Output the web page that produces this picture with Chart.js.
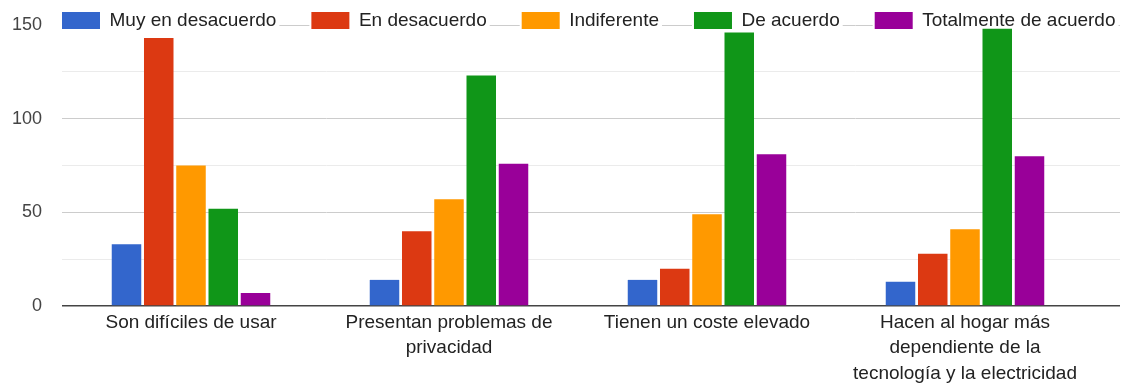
<!DOCTYPE html>
<html>
<head>
<meta charset="utf-8">
<script src="https://cdn.jsdelivr.net/npm/chart.js@4"></script>
<style>
  html, body { margin: 0; padding: 0; background: #fff; }
</style>
</head>
<body>
<canvas id="barChart" width="1126" height="383"></canvas>
<script>
// Survey answers per statement
const statements = [
    'Son difíciles de usar',
    ['Presentan problemas de', 'privacidad'],
    'Tienen un coste elevado',
    ['Hacen al hogar más', 'dependiente de la', 'tecnología y la electricidad']
];
const answers = ['Muy en desacuerdo', 'En desacuerdo', 'Indiferente', 'De acuerdo', 'Totalmente de acuerdo'];

const muyEnDesacuerdo = [33, 14, 14, 13];
const enDesacuerdo = [143, 40, 20, 28];
const indiferente = [75, 57, 49, 41];
const deAcuerdo = [52, 123, 146, 148];
const totalmenteDeAcuerdo = [7, 76, 81, 80];

const answerColors = ['#3366cc', '#dc3912', '#ff9900', '#109618', '#990099'];
const yLabels = [0, 50, 100, 150];

const FONT_FAMILY = "'Liberation Sans', Arial, sans-serif";

// Keeps the legend in one row on top of the plot (over the 150 line,
// with a white patch behind each entry) and lets the horizontal grid
// run a little past the last group
const legendPlacement = {
    id: 'legendPlacement',
    beforeLayout(chart) {
        const legend = chart.legend;
        if (!legend || legend._patched) return;
        const fit = legend.fit;
        legend.fit = function () {
            fit.call(this);
            this.height = 25;
        };
        const draw = legend.draw;
        legend.draw = function () {
            const c = this.ctx;
            const labels = this.options.labels;
            const pad = labels.padding;
            const size = labels.font.size;
            c.save();
            c.font = size + 'px ' + labels.font.family;
            c.fillStyle = '#fff';
            let x = this.left + pad;
            this.legendItems.forEach((item) => {
                const w = labels.boxWidth + size / 2 + c.measureText(item.text).width;
                c.fillRect(x - 2, this.top + pad - 1, w + 5, size + 5);
                x += w + pad;
            });
            c.restore();
            draw.call(this);
        };
        legend._patched = true;
    },
    afterLayout(chart) {
        const legend = chart.legend;
        const pad = legend.options.labels.padding;
        legend.left = 62 - pad;
        legend.right = chart.width + 200;
        legend.top = 11 - pad;
        legend.bottom = 45;
        chart.chartArea.right = chart.width - 6;
    }
};

const ctx = document.getElementById('barChart').getContext('2d');
const series = [muyEnDesacuerdo, enDesacuerdo, indiferente, deAcuerdo, totalmenteDeAcuerdo];

const barChart = new Chart(ctx, {
    type: 'bar',
    data: {
        labels: statements,
        datasets: series.map((values, i) => ({
            label: answers[i],
            data: values,
            backgroundColor: answerColors[i],
            borderWidth: 0,
            categoryPercentage: 0.625,
            barPercentage: 0.915
        }))
    },
    options: {
        responsive: false,
        animation: false,
        layout: { padding: { left: 0, right: 32, top: 0, bottom: -6.5 } },
        plugins: {
            legend: {
                display: true,
                position: 'top',
                align: 'start',
                labels: {
                    boxWidth: 38,
                    boxHeight: 17,
                    padding: 35,
                    color: '#222',
                    font: { family: FONT_FAMILY, size: 19 }
                }
            },
            tooltip: { enabled: false }
        },
        scales: {
            x: {
                grid: { display: false, drawTicks: false },
                border: { display: false },
                ticks: {
                    color: '#222',
                    padding: 3.5,
                    maxRotation: 0,
                    autoSkip: false,
                    font: { family: FONT_FAMILY, size: 19, lineHeight: 1.34 }
                }
            },
            y: {
                min: 0,
                max: 150,
                border: { display: false },
                grid: {
                    z: -1,
                    drawTicks: false,
                    color: (c) => c.tick.value === 0 ? '#444' : (yLabels.includes(c.tick.value) ? '#cccccc' : '#ebebeb'),
                    lineWidth: (c) => c.tick.value === 0 ? 1.6 : 1
                },
                ticks: {
                    stepSize: 25,
                    padding: 20,
                    color: '#444',
                    font: { family: FONT_FAMILY, size: 18 },
                    callback: (value) => yLabels.includes(value) ? value : ''
                },
                afterFit(scale) {
                    // labels sit 20px off the plot, but only need half a line above it
                    scale.width = 62;
                    scale.paddingTop = 11;
                    scale.paddingBottom = 11;
                }
            }
        }
    },
    plugins: [legendPlacement]
});
</script>
</body>
</html>
